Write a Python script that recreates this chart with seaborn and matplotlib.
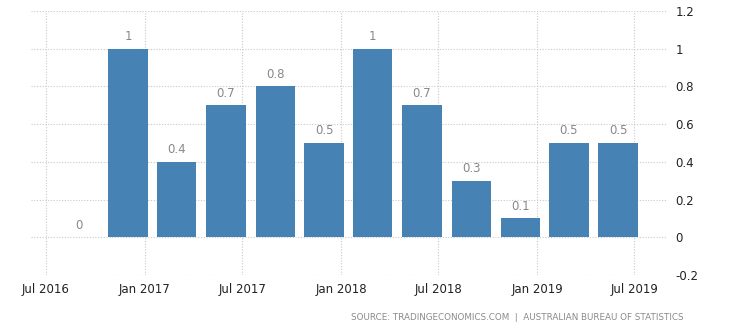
import matplotlib
matplotlib.use("Agg")
import matplotlib.pyplot as plt
import matplotlib.dates as mdates
import seaborn as sns
import pandas as pd
import numpy as np

quarters = ["2016-09-01", "2016-12-01", "2017-03-01", "2017-06-01", "2017-09-01", "2017-12-01",
            "2018-03-01", "2018-06-01", "2018-09-01", "2018-12-01", "2019-03-01", "2019-06-01"]
values = [0, 1, 0.4, 0.7, 0.8, 0.5, 1, 0.7, 0.3, 0.1, 0.5, 0.5]
labels = ["0", "1", "0.4", "0.7", "0.8", "0.5", "1", "0.7", "0.3", "0.1", "0.5", "0.5"]
tick_dates = ["2016-07-01", "2017-01-01", "2017-07-01", "2018-01-01", "2018-07-01", "2019-01-01", "2019-07-01"]
tick_labels = ["Jul 2016", "Jan 2017", "Jul 2017", "Jan 2018", "Jul 2018", "Jan 2019", "Jul 2019"]
yticks = [-0.2, 0, 0.2, 0.4, 0.6, 0.8, 1.0, 1.2]
ytick_labels = ["-0.2", "0", "0.2", "0.4", "0.6", "0.8", "1", "1.2"]

sns.set_style("white")
plt.rcParams['font.family'] = ['DejaVu Sans']

xnum = mdates.date2num(pd.to_datetime(quarters))
df = pd.DataFrame({"x": xnum, "y": values})

fig = plt.figure(figsize=(7.35, 3.28), dpi=100)
ax = fig.add_axes([31/735, 1-275/328, (667-31)/735, (275-11)/328])

sns.barplot(data=df, x="x", y="y", native_scale=True, color="#4682b4", saturation=1,
            width=0.82, linewidth=0, ax=ax, zorder=2)

for p, lab in zip(ax.patches, labels):
    cx = p.get_x() + p.get_width() / 2
    ax.annotate(lab, (cx, p.get_height()), xytext=(0, 4), textcoords="offset points",
                ha="center", va="bottom", fontsize=8.5, color="#888888")

ax.set_ylim(-0.2, 1.2)
ax.set_xlim(mdates.date2num(pd.Timestamp("2016-06-03")), mdates.date2num(pd.Timestamp("2019-08-31")))
ax.set_xticks(mdates.date2num(pd.to_datetime(tick_dates)))
ax.set_xticklabels(tick_labels, fontsize=8.5, color="#222222")
ax.set_yticks(yticks)
ax.set_yticklabels(ytick_labels, fontsize=8.5, color="#222222")
ax.yaxis.tick_right()
ax.tick_params(axis="both", length=0)
ax.tick_params(axis="y", pad=6)
ax.tick_params(axis="x", pad=6)
ax.set_xlabel("")
ax.set_ylabel("")
ax.grid(True, linestyle=(0, (1, 1.5)), color="#c8c8c8", linewidth=0.8, zorder=0)
ax.set_axisbelow(True)
for s in ax.spines.values():
    s.set_visible(False)

fig.text(684/735, 1-317/328, "SOURCE: TRADINGECONOMICS.COM  |  AUSTRALIAN BUREAU OF STATISTICS",
         ha="right", va="center", fontsize=6.3, color="#8a8a8a")

fig.savefig("out.png", dpi=100)
